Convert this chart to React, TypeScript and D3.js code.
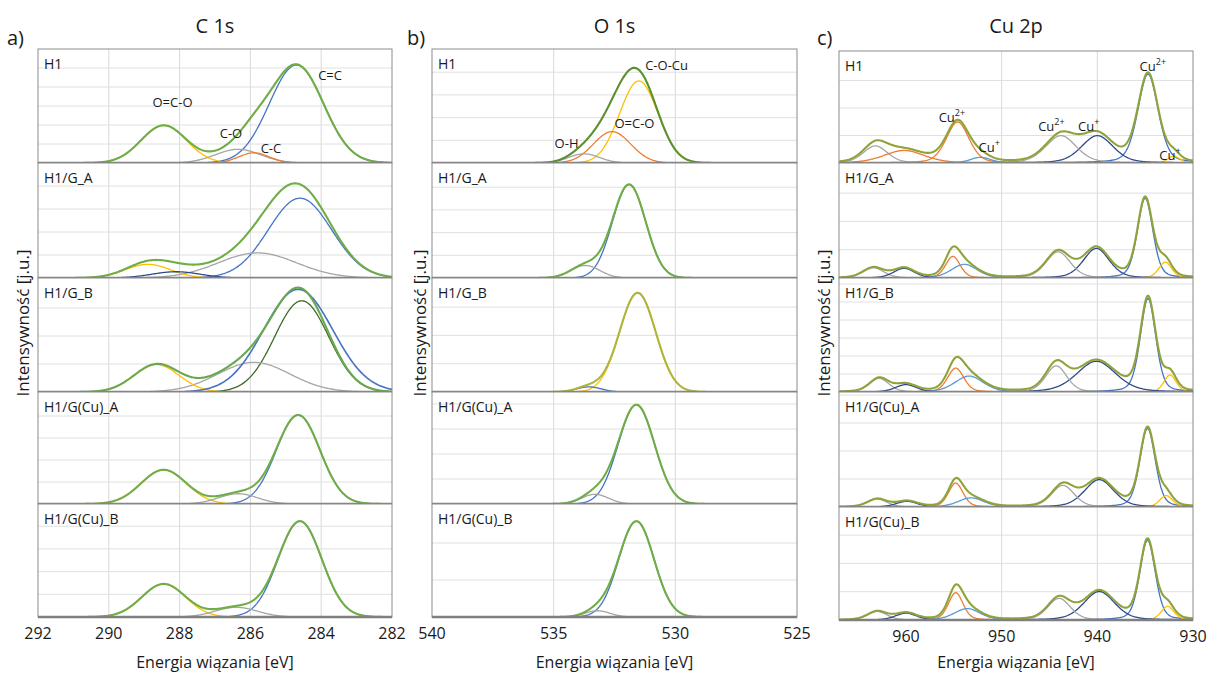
import React from "react";
import * as d3 from "d3";

// ---------- DATA (peak components: [centre eV, height (rel.), FWHM eV, series key, notSummed?]) ----------
type Peak = [number, number, number, string, boolean?];

const SAMPLES = ["H1", "H1/G_A", "H1/G_B", "H1/G(Cu)_A", "H1/G(Cu)_B"];

// C 1s
const c1sTicks = [292, 290, 288, 286, 284, 282];
const c1sH1: Peak[] = [[284.7, 0.86, 1.8, "B"], [288.45, 0.33, 1.5, "Y"], [286.35, 0.12, 1.5, "G"], [285.9, 0.09, 1.0, "O"]];
const c1sGA: Peak[] = [[284.6, 0.70, 2.1, "B"], [285.8, 0.22, 2.6, "G"], [288.9, 0.12, 1.5, "Y"], [288.1, 0.055, 1.6, "D"]];
const c1sGB: Peak[] = [[284.65, 0.90, 2.3, "B", true], [284.55, 0.80, 1.8, "K"], [285.9, 0.26, 2.4, "G"], [288.65, 0.24, 1.5, "Y"]];
const c1sGCuA: Peak[] = [[284.65, 0.78, 1.45, "B"], [288.45, 0.30, 1.5, "Y"], [286.35, 0.09, 1.3, "G"]];
const c1sGCuB: Peak[] = [[284.6, 0.84, 1.45, "B"], [288.45, 0.29, 1.45, "Y"], [286.4, 0.085, 1.4, "G"]];
const c1sNotes = [
  { text: "O=C-O", e: 288.2, v: 0.49 },
  { text: "C-O", e: 286.55, v: 0.22 },
  { text: "C-C", e: 285.42, v: 0.09 },
  { text: "C=C", e: 283.75, v: 0.73 },
];

// O 1s
const o1sTicks = [540, 535, 530, 525];
const o1sH1: Peak[] = [[531.5, 0.72, 1.85, "Y"], [532.6, 0.275, 1.8, "O"], [533.75, 0.08, 1.5, "G"]];
const o1sGA: Peak[] = [[531.9, 0.82, 1.6, "B"], [533.7, 0.11, 1.4, "G"]];
const o1sGB: Peak[] = [[531.55, 0.87, 1.75, "Y"], [533.55, 0.045, 1.2, "B"]];
const o1sGCuA: Peak[] = [[531.6, 0.87, 1.75, "B"], [533.3, 0.085, 1.3, "G"]];
const o1sGCuB: Peak[] = [[531.6, 0.84, 1.7, "B"], [533.2, 0.055, 1.2, "G"]];
const o1sNotes = [
  { text: "C-O-Cu", e: 530.36, v: 0.816 },
  { text: "O=C-O", e: 531.68, v: 0.307 },
  { text: "O-H", e: 534.47, v: 0.13 },
];

// Cu 2p
const cu2pTicks = [960, 950, 940, 930];
const cu2pH1: Peak[] = [
  [934.7, 0.78, 2.5, "B"], [932.0, 0.06, 1.5, "Y"], [940.0, 0.24, 3.9, "D"], [943.8, 0.24, 3.8, "G"],
  [954.6, 0.36, 2.8, "O"], [952.2, 0.05, 2.5, "L"], [963.2, 0.15, 3.0, "G"], [960.2, 0.11, 5.0, "O"],
];
const cu2pGA: Peak[] = [
  [935.0, 0.70, 1.9, "B"], [932.9, 0.14, 1.6, "Y"], [940.1, 0.26, 3.2, "D"], [944.1, 0.23, 3.0, "G"],
  [955.1, 0.19, 1.8, "O"], [953.9, 0.12, 3.2, "L"], [963.4, 0.09, 2.6, "G"], [960.2, 0.085, 2.6, "D"],
];
const cu2pGB: Peak[] = [
  [934.7, 0.82, 1.9, "B"], [932.4, 0.15, 1.5, "Y"], [940.1, 0.27, 4.8, "D"], [944.3, 0.23, 2.6, "G"],
  [954.8, 0.21, 2.0, "O"], [953.4, 0.14, 3.5, "L"], [962.8, 0.12, 2.4, "G"], [960.0, 0.065, 2.6, "D"],
];
const cu2pGCuA: Peak[] = [
  [934.75, 0.69, 1.9, "B"], [932.8, 0.10, 1.6, "Y"], [939.8, 0.24, 3.6, "D"], [943.6, 0.19, 2.8, "G"],
  [954.8, 0.21, 1.8, "O"], [953.2, 0.08, 3.2, "L"], [963.0, 0.07, 2.4, "G"], [959.9, 0.05, 2.6, "D"],
];
const cu2pGCuB: Peak[] = [
  [934.75, 0.70, 1.9, "B"], [932.65, 0.12, 1.6, "Y"], [939.8, 0.25, 3.8, "D"], [944.0, 0.19, 2.8, "G"],
  [954.8, 0.24, 1.8, "O"], [953.6, 0.10, 3.2, "L"], [963.0, 0.075, 2.4, "G"], [960.0, 0.06, 2.6, "D"],
];
const cu2pNotes = [
  { text: "Cu", sup: "2+", e: 955.2, v: 0.36 },
  { text: "Cu", sup: "+", e: 951.3, v: 0.096 },
  { text: "Cu", sup: "2+", e: 944.8, v: 0.28 },
  { text: "Cu", sup: "+", e: 940.9, v: 0.28 },
  { text: "Cu", sup: "2+", e: 934.2, v: 0.81 },
  { text: "Cu", sup: "+", e: 932.4, v: 0.03 },
];

// ---------- STYLE / LAYOUT ----------
const PALETTE: Record<string, string> = {
  B: "#4472C4", O: "#ED7D31", G: "#A5A5A5", Y: "#FFC000", L: "#5B9BD5", D: "#2F4A8A", K: "#3E6B26",
};
const FONT = "'Open Sans', 'Liberation Sans', sans-serif";
const UNIT_H = 114;

type Note = { text: string; sup?: string; e: number; v: number };
type Col = {
  letter: string; title: string; domain: [number, number]; ticks: number[];
  x0: number; x1: number; tops: number[]; bottoms: number[];
  peaks: Peak[][]; lorentz: number; step: number; env: string[]; grid: number[];
  notes: Note[]; letterX: number; yTitleX: number;
};

const columns: Col[] = [
  {
    letter: "a)", title: "C 1s", domain: [292, 282], ticks: c1sTicks, x0: 38, x1: 392,
    tops: [49, 163, 278, 392, 504], bottoms: [163, 278, 392, 504, 617],
    peaks: [c1sH1, c1sGA, c1sGB, c1sGCuA, c1sGCuB], lorentz: 0, step: 0.02,
    env: ["#70AD47", "#70AD47", "#6AA84F", "#70AD47", "#70AD47"], grid: [19, 23, 28, 22, 22.7],
    notes: c1sNotes, letterX: 7, yTitleX: 22,
  },
  {
    letter: "b)", title: "O 1s", domain: [540, 525], ticks: o1sTicks, x0: 432, x1: 797,
    tops: [49, 163, 278, 392, 504], bottoms: [163, 278, 392, 504, 617],
    peaks: [o1sH1, o1sGA, o1sGB, o1sGCuA, o1sGCuB], lorentz: 0, step: 0.03,
    env: ["#5B8F2F", "#70AD47", "#B0B43A", "#70AD47", "#70AD47"], grid: [22.7, 22.7, 28.3, 25, 37],
    notes: o1sNotes, letterX: 407, yTitleX: 419,
  },
  {
    letter: "c)", title: "Cu 2p", domain: [967, 930], ticks: cu2pTicks, x0: 839, x1: 1193,
    tops: [51, 163, 278, 392, 507], bottoms: [163, 278, 392, 507, 620],
    peaks: [cu2pH1, cu2pGA, cu2pGB, cu2pGCuA, cu2pGCuB], lorentz: 0.3, step: 0.08,
    env: ["#8FA33A", "#8FA33A", "#8FA33A", "#8FA33A", "#8FA33A"], grid: [27.5, 28.3, 18, 28, 28.3],
    notes: cu2pNotes, letterX: 817, yTitleX: 823,
  },
];

function profile(e: number, p: Peak, m: number): number {
  const t = (e - p[0]) / p[2];
  return p[1] * ((1 - m) * Math.exp(-4 * Math.LN2 * t * t) + m / (1 + 4 * t * t));
}

function Panel({ col, row, ci }: { col: Col; row: number; ci: number }) {
  const top = col.tops[row];
  const bottom = col.bottoms[row];
  const x = d3.scaleLinear().domain(col.domain).range([col.x0, col.x1]);
  const y = d3.scaleLinear().domain([0, 1]).range([bottom, bottom - UNIT_H]);
  const peaks = col.peaks[row];
  const lo = Math.min(...col.domain), hi = Math.max(...col.domain);
  const es = d3.range(lo, hi + col.step / 2, col.step);
  const clipId = `clip-${ci}-${row}`;

  const compLine = d3.line<[number, number]>()
    .defined((d) => d[1] > 0.004)
    .x((d) => x(d[0])).y((d) => y(d[1]));
  const envLine = d3.line<[number, number]>().x((d) => x(d[0])).y((d) => y(d[1]));

  const env: [number, number][] = es.map((e) => [
    e, peaks.filter((p) => !p[4]).reduce((s, p) => s + profile(e, p, col.lorentz), 0),
  ]);

  const gridYs: number[] = [];
  for (let k = 1; bottom - k * col.grid[row] > top + 2; k++) gridYs.push(bottom - k * col.grid[row]);

  const notSummed = peaks.filter((p) => p[4]);
  const comps = peaks.filter((p) => !p[4]);

  return (
    <g>
      <defs>
        <clipPath id={clipId}>
          <rect x={col.x0} y={top} width={col.x1 - col.x0} height={bottom - top} />
        </clipPath>
      </defs>
      <rect x={col.x0} y={top} width={col.x1 - col.x0} height={bottom - top} fill="#fff" />
      {col.ticks.slice(1, -1).map((t) => (
        <line key={"v" + t} x1={x(t)} x2={x(t)} y1={top} y2={bottom} stroke="#d9d9d9" strokeWidth={1} />
      ))}
      {gridYs.map((gy, i) => (
        <line key={"h" + i} x1={col.x0} x2={col.x1} y1={gy} y2={gy} stroke="#e0e0e0" strokeWidth={1} />
      ))}
      <g clipPath={`url(#${clipId})`}>
        {comps.map((p, i) => (
          <path key={"c" + i}
            d={compLine(es.map((e) => [e, profile(e, p, col.lorentz)] as [number, number])) || ""}
            fill="none" stroke={PALETTE[p[3]]} strokeWidth={1.3} />
        ))}
        {notSummed.map((p, i) => (
          <path key={"n" + i}
            d={compLine(es.map((e) => [e, profile(e, p, col.lorentz)] as [number, number])) || ""}
            fill="none" stroke={PALETTE[p[3]]} strokeWidth={1.6} />
        ))}
        <path d={envLine(env) || ""} fill="none" stroke={col.env[row]} strokeWidth={2.1} />
      </g>
      <rect x={col.x0} y={top} width={col.x1 - col.x0} height={bottom - top} fill="none" stroke="#8c8c8c" strokeWidth={1} />
      <line x1={col.x0} x2={col.x1} y1={bottom} y2={bottom} stroke="#7f7f7f" strokeWidth={2.5} />
      <text x={col.x0 + 6} y={top + 20} fontSize={14} fill="#1a1a1a" fontFamily={FONT}>{SAMPLES[row]}</text>
      {row === 0 && col.notes.map((n, i) => (
        <text key={"t" + i} x={x(n.e)} y={y(n.v)} fontSize={13} fill="#1a1a1a" textAnchor="middle" fontFamily={FONT}>
          {n.text}
          {n.sup && <tspan fontSize={9} dy={-6}>{n.sup}</tspan>}
        </text>
      ))}
    </g>
  );
}

export default function App() {
  return (
    <svg width={1208} height={679} style={{ position: "absolute", left: 0, top: 0, background: "#fff" }}
      fontFamily={FONT}>
      <rect x={0} y={0} width={1208} height={679} fill="#fff" />
      {columns.map((col, ci) => {
        const x = d3.scaleLinear().domain(col.domain).range([col.x0, col.x1]);
        const last = col.bottoms[col.bottoms.length - 1];
        return (
          <g key={ci}>
            <text x={(col.x0 + col.x1) / 2} y={33} fontSize={20} textAnchor="middle" fill="#1a1a1a">{col.title}</text>
            <text x={col.letterX} y={45} fontSize={20} fill="#1a1a1a">{col.letter}</text>
            {SAMPLES.map((_, r) => <Panel key={r} col={col} row={r} ci={ci} />)}
            {col.ticks.map((t) => (
              <text key={t} x={x(t)} y={last + 22} fontSize={16} textAnchor="middle" fill="#1a1a1a">{t}</text>
            ))}
            <text x={(col.x0 + col.x1) / 2} y={668} fontSize={16} textAnchor="middle" fill="#1a1a1a">Energia wiązania [eV]</text>
            <text transform={`translate(${col.yTitleX},323) rotate(-90)`} fontSize={17} textAnchor="middle"
              dominantBaseline="central" fill="#1a1a1a">Intensywność [j.u.]</text>
          </g>
        );
      })}
    </svg>
  );
}
